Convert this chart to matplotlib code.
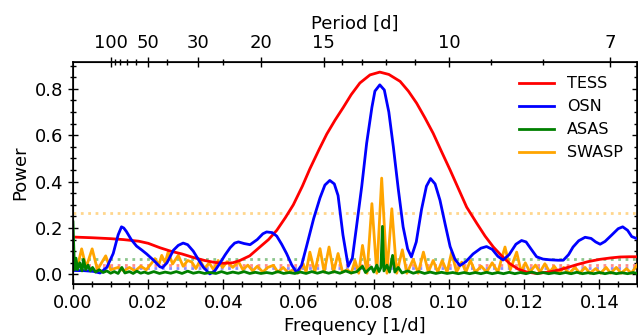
import matplotlib
matplotlib.use('Agg')
import matplotlib.pyplot as plt
from matplotlib.ticker import MultipleLocator

# TESS periodogram (frequency [1/d], power)
tess_freq = [0.0000, 0.0050, 0.0100, 0.0134, 0.0175, 0.0200, 0.0231, 0.0260, 0.0290,
             0.0320, 0.0350, 0.0375, 0.0400, 0.0425, 0.0444, 0.0470, 0.0497, 0.0520,
             0.0542, 0.0565, 0.0586, 0.0610, 0.0630, 0.0655, 0.0675, 0.0697, 0.0719,
             0.0740, 0.0763, 0.0790, 0.0816, 0.0840, 0.0870, 0.0892, 0.0914, 0.0936,
             0.0958, 0.0980, 0.1003, 0.1025, 0.1047, 0.1074, 0.1096, 0.1118, 0.1140,
             0.1162, 0.1185, 0.1207, 0.1233, 0.1265, 0.1295, 0.1320, 0.1340, 0.1370,
             0.1402, 0.1430, 0.1455, 0.1480, 0.1500]
tess_pow = [0.161, 0.158, 0.154, 0.150, 0.143, 0.134, 0.115, 0.100, 0.088,
            0.073, 0.060, 0.052, 0.048, 0.050, 0.060, 0.080, 0.118, 0.150,
            0.190, 0.245, 0.300, 0.380, 0.455, 0.540, 0.605, 0.665, 0.720,
            0.775, 0.825, 0.860, 0.872, 0.862, 0.832, 0.790, 0.738, 0.675,
            0.608, 0.530, 0.450, 0.370, 0.290, 0.220, 0.165, 0.118, 0.080,
            0.046, 0.022, 0.010, 0.004, 0.010, 0.020, 0.032, 0.042, 0.055,
            0.065, 0.071, 0.075, 0.076, 0.076]

# OSN periodogram
osn_freq = [0.0000, 0.0030, 0.0054, 0.0072, 0.0090, 0.0107, 0.0120, 0.0129, 0.0135,
            0.0142, 0.0155, 0.0169, 0.0183, 0.0196, 0.0215, 0.0231, 0.0238, 0.0250,
            0.0267, 0.0280, 0.0293, 0.0305, 0.0320, 0.0335, 0.0347, 0.0364, 0.0377,
            0.0390, 0.0405, 0.0418, 0.0430, 0.0440, 0.0455, 0.0471, 0.0490, 0.0505,
            0.0515, 0.0530, 0.0542, 0.0555, 0.0568, 0.0582, 0.0595, 0.0608, 0.0621,
            0.0640, 0.0657, 0.0670, 0.0683, 0.0695, 0.0705, 0.0718, 0.0732, 0.0743,
            0.0754, 0.0768, 0.0781, 0.0795, 0.0803, 0.0816, 0.0828, 0.0840, 0.0852,
            0.0865, 0.0878, 0.0890, 0.0900, 0.0913, 0.0927, 0.0940, 0.0951, 0.0963,
            0.0976, 0.0990, 0.1003, 0.1016, 0.1029, 0.1045, 0.1064, 0.1085, 0.1100,
            0.1115, 0.1130, 0.1144, 0.1160, 0.1178, 0.1193, 0.1205, 0.1218, 0.1233,
            0.1250, 0.1268, 0.1290, 0.1304, 0.1318, 0.1330, 0.1345, 0.1362, 0.1378,
            0.1390, 0.1402, 0.1415, 0.1433, 0.1450, 0.1462, 0.1475, 0.1486, 0.1500]
osn_pow = [0.017, 0.016, 0.013, 0.006, 0.030, 0.090, 0.170, 0.205, 0.200,
           0.185, 0.150, 0.122, 0.105, 0.088, 0.060, 0.033, 0.029, 0.050,
           0.104, 0.125, 0.135, 0.128, 0.100, 0.060, 0.030, 0.002, 0.015,
           0.046, 0.085, 0.115, 0.135, 0.140, 0.133, 0.128, 0.150, 0.175,
           0.183, 0.180, 0.165, 0.130, 0.090, 0.040, 0.008, 0.040, 0.120,
           0.240, 0.330, 0.385, 0.405, 0.390, 0.340, 0.170, 0.035, 0.070,
           0.205, 0.380, 0.565, 0.720, 0.790, 0.817, 0.795, 0.700, 0.550,
           0.370, 0.205, 0.110, 0.075, 0.140, 0.280, 0.380, 0.413, 0.390,
           0.320, 0.215, 0.120, 0.065, 0.038, 0.055, 0.088, 0.113, 0.120,
           0.108, 0.078, 0.062, 0.085, 0.130, 0.146, 0.140, 0.110, 0.076,
           0.066, 0.063, 0.061, 0.061, 0.085, 0.118, 0.145, 0.160, 0.155,
           0.140, 0.130, 0.142, 0.170, 0.197, 0.205, 0.190, 0.163, 0.154]

# ASAS periodogram
asas_freq = [0.0000, 0.0004, 0.0008, 0.0012, 0.0018, 0.0024, 0.0028, 0.0034, 0.0040,
             0.0046, 0.0052, 0.0060, 0.0070, 0.0080, 0.0090, 0.0100, 0.0110, 0.0120,
             0.0130, 0.0138, 0.0150, 0.0160, 0.0170, 0.0180, 0.0190, 0.0200, 0.0215,
             0.0230, 0.0245, 0.0260, 0.0275, 0.0290, 0.0305, 0.0320, 0.0335, 0.0350,
             0.0365, 0.0380, 0.0395, 0.0410, 0.0425, 0.0440, 0.0455, 0.0470, 0.0485,
             0.0500, 0.0515, 0.0530, 0.0545, 0.0560, 0.0575, 0.0590, 0.0605, 0.0620,
             0.0635, 0.0650, 0.0665, 0.0680, 0.0695, 0.0710, 0.0725, 0.0740, 0.0755,
             0.0770, 0.0778, 0.0794, 0.0800, 0.0808, 0.0814, 0.0819, 0.0823, 0.0827,
             0.0835, 0.0842, 0.0850, 0.0856, 0.0865, 0.0875, 0.0890, 0.0905, 0.0920,
             0.0935, 0.0950, 0.0965, 0.0980, 0.0995, 0.1010, 0.1025, 0.1040, 0.1055,
             0.1070, 0.1085, 0.1100, 0.1115, 0.1130, 0.1145, 0.1160, 0.1175, 0.1190,
             0.1205, 0.1220, 0.1235, 0.1250, 0.1265, 0.1280, 0.1295, 0.1310, 0.1325,
             0.1340, 0.1355, 0.1370, 0.1385, 0.1400, 0.1415, 0.1430, 0.1445, 0.1460,
             0.1475, 0.1490, 0.1500]
asas_pow = [0.226, 0.020, 0.070, 0.020, 0.050, 0.015, 0.065, 0.020, 0.040,
            0.015, 0.030, 0.010, 0.020, 0.008, 0.015, 0.005, 0.012, 0.004,
            0.030, 0.006, 0.012, 0.004, 0.014, 0.005, 0.010, 0.004, 0.012,
            0.004, 0.010, 0.005, 0.012, 0.004, 0.014, 0.005, 0.010, 0.004,
            0.008, 0.004, 0.012, 0.004, 0.010, 0.005, 0.012, 0.004, 0.009,
            0.004, 0.008, 0.004, 0.012, 0.004, 0.008, 0.004, 0.010, 0.004,
            0.012, 0.005, 0.012, 0.005, 0.012, 0.005, 0.015, 0.006, 0.012,
            0.035, 0.008, 0.032, 0.010, 0.040, 0.012, 0.030, 0.207, 0.015,
            0.040, 0.010, 0.082, 0.010, 0.030, 0.006, 0.015, 0.005, 0.012,
            0.004, 0.010, 0.004, 0.009, 0.004, 0.008, 0.003, 0.008, 0.003,
            0.008, 0.003, 0.009, 0.003, 0.008, 0.003, 0.009, 0.003, 0.008,
            0.003, 0.010, 0.003, 0.008, 0.003, 0.007, 0.003, 0.008, 0.003,
            0.009, 0.003, 0.007, 0.003, 0.008, 0.003, 0.008, 0.003, 0.007,
            0.003, 0.008, 0.004]

# SWASP periodogram
swasp_freq = [0.0000, 0.0010, 0.0023, 0.0035, 0.0051, 0.0065, 0.0087, 0.0100, 0.0120,
              0.0135, 0.0150, 0.0165, 0.0180, 0.0195, 0.0210, 0.0218, 0.0228, 0.0236,
              0.0245, 0.0253, 0.0265, 0.0280, 0.0293, 0.0305, 0.0316, 0.0327, 0.0338,
              0.0350, 0.0362, 0.0374, 0.0386, 0.0398, 0.0410, 0.0425, 0.0440, 0.0452,
              0.0465, 0.0478, 0.0490, 0.0505, 0.0518, 0.0533, 0.0545, 0.0559, 0.0572,
              0.0585, 0.0598, 0.0612, 0.0620, 0.0630, 0.0643, 0.0657, 0.0668, 0.0681,
              0.0693, 0.0705, 0.0717, 0.0730, 0.0740, 0.0750, 0.0760, 0.0770, 0.0782,
              0.0795, 0.0808, 0.0821, 0.0835, 0.0848, 0.0861, 0.0876, 0.0888, 0.0905,
              0.0918, 0.0932, 0.0945, 0.0958, 0.0970, 0.0982, 0.0995, 0.1007, 0.1020,
              0.1034, 0.1045, 0.1057, 0.1070, 0.1086, 0.1100, 0.1115, 0.1130, 0.1149,
              0.1163, 0.1180, 0.1192, 0.1203, 0.1215, 0.1230, 0.1242, 0.1255, 0.1268,
              0.1280, 0.1293, 0.1305, 0.1320, 0.1335, 0.1348, 0.1362, 0.1375, 0.1390,
              0.1403, 0.1418, 0.1430, 0.1445, 0.1458, 0.1472, 0.1485, 0.1500]
swasp_pow = [0.030, 0.020, 0.110, 0.030, 0.110, 0.020, 0.080, 0.020, 0.030,
             0.015, 0.030, 0.015, 0.035, 0.020, 0.050, 0.068, 0.040, 0.082,
             0.050, 0.096, 0.045, 0.082, 0.035, 0.060, 0.053, 0.025, 0.060,
             0.025, 0.050, 0.020, 0.060, 0.030, 0.055, 0.030, 0.055, 0.020,
             0.040, 0.015, 0.035, 0.010, 0.030, 0.039, 0.010, 0.030, 0.008,
             0.020, 0.005, 0.046, 0.010, 0.096, 0.010, 0.111, 0.010, 0.118,
             0.010, 0.090, 0.010, 0.020, 0.005, 0.060, 0.005, 0.125, 0.005,
             0.305, 0.005, 0.415, 0.005, 0.283, 0.005, 0.106, 0.005, 0.065,
             0.005, 0.096, 0.010, 0.060, 0.010, 0.060, 0.010, 0.096, 0.010,
             0.053, 0.010, 0.060, 0.010, 0.035, 0.010, 0.050, 0.010, 0.118,
             0.020, 0.096, 0.010, 0.050, 0.010, 0.040, 0.010, 0.046, 0.010,
             0.035, 0.005, 0.030, 0.005, 0.030, 0.005, 0.030, 0.005, 0.025,
             0.005, 0.030, 0.005, 0.030, 0.005, 0.025, 0.005, 0.040]

# significance levels
fap_levels = {'SWASP': 0.264, 'ASAS': 0.065, 'TESS': 0.040, 'OSN': 0.027}
colors = {'TESS': 'red', 'OSN': 'blue', 'ASAS': 'green', 'SWASP': 'orange'}

period_major = [100, 50, 30, 20, 15, 10, 7]
period_minor = [90, 80, 70, 60, 40, 25, 14, 13, 12, 11, 9, 8]

fig = plt.figure(figsize=(6.38, 3.35), dpi=100)
ax = fig.add_axes([0.1144, 0.1522, 0.884, 0.6627])

for name in ['SWASP', 'ASAS', 'TESS', 'OSN']:
    ax.axhline(fap_levels[name], color=colors[name], ls=':', lw=2, alpha=0.45)

h_sw, = ax.plot(swasp_freq, swasp_pow, color=colors['SWASP'], lw=2, label='SWASP', zorder=3)
h_te, = ax.plot(tess_freq, tess_pow, color=colors['TESS'], lw=2, label='TESS', zorder=4)
h_os, = ax.plot(osn_freq, osn_pow, color=colors['OSN'], lw=2, label='OSN', zorder=4)
h_as, = ax.plot(asas_freq, asas_pow, color=colors['ASAS'], lw=2, label='ASAS', zorder=5)

ax.set_xlim(0, 0.15)
ax.set_xlabel('Frequency [1/d]', fontsize=13)
ax.set_ylabel('Power', fontsize=13)
ax.xaxis.set_major_locator(MultipleLocator(0.02))
ax.xaxis.set_minor_locator(MultipleLocator(0.005))
ax.yaxis.set_major_locator(MultipleLocator(0.2))
ax.yaxis.set_minor_locator(MultipleLocator(0.05))
ax.tick_params(which='both', direction='inout', right=True, labelsize=13)
ax.tick_params(which='major', length=7, width=1)
ax.tick_params(which='minor', length=4, width=1)
for s in ax.spines.values():
    s.set_linewidth(1.2)

# period axis on top: ticks placed at frequency 1/P
top = ax.twiny()
top.set_xlim(ax.get_xlim())
top.set_xticks([1.0 / p for p in period_major])
top.set_xticklabels([str(p) for p in period_major])
top.set_xticks([1.0 / p for p in period_minor], minor=True)
top.tick_params(which='both', direction='inout', labelsize=13)
top.tick_params(which='major', length=7, width=1)
top.tick_params(which='minor', length=4, width=1)
top.set_xlabel('Period [d]', fontsize=13)

ax.legend(handles=[h_te, h_os, h_as, h_sw], loc='upper right', frameon=False,
          fontsize=11.5, handlelength=2.2)

fig.savefig('out.png', dpi=100)
